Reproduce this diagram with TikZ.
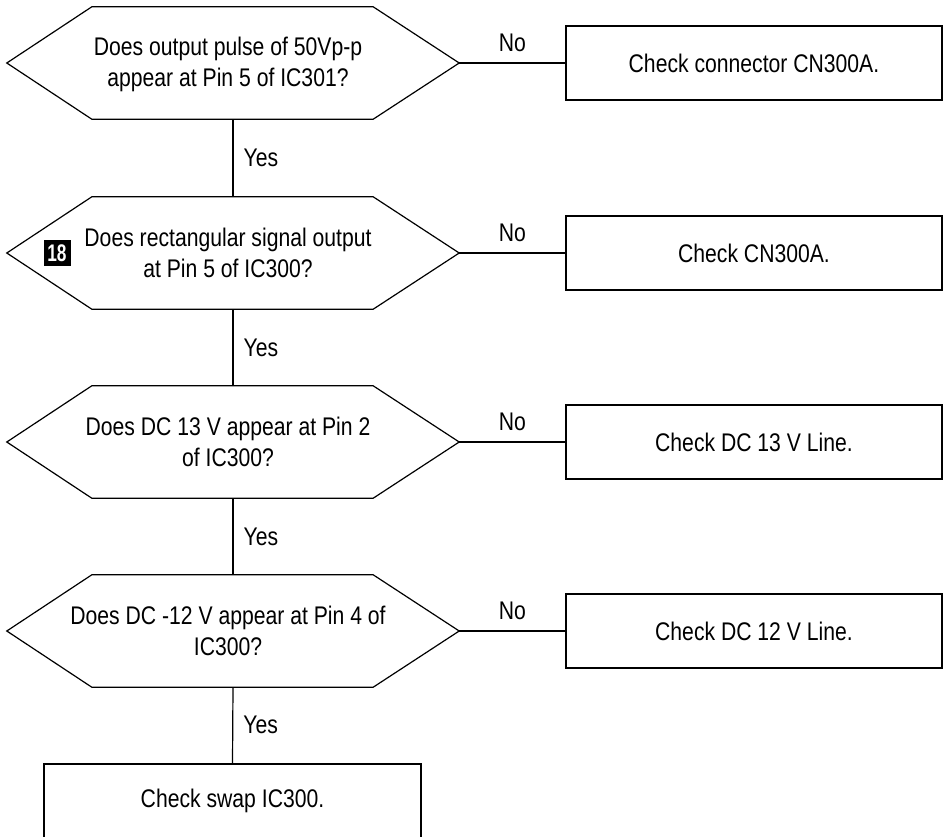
\documentclass[tikz,border=0pt]{standalone}
\usepackage{fontspec}
\setmainfont{Liberation Sans}[FakeStretch=0.83]
\newfontfamily\badgefont{Liberation Sans}[FakeStretch=0.72]
\begin{document}
\begin{tikzpicture}[x=1pt,y=-1pt,
  every node/.style={font=\fontsize{25.5}{31}\selectfont},
  line/.style={draw=black, line width=1.2pt},
  question/.style={minimum width=452pt, minimum height=112pt, inner sep=0pt},
  qtext/.style={align=center, inner sep=0pt},
  action/.style={line, minimum width=376pt, minimum height=74pt, inner sep=0pt},
  answer/.style={inner sep=0pt},
  badge/.style={fill=black, text=white, minimum width=27pt, minimum height=26pt,
    inner sep=0pt, font=\badgefont\bfseries\fontsize{24}{24}\selectfont}
]
\useasboundingbox (0,0) rectangle (943,836);
\clip (0,0) rectangle (943,836);

% decision nodes (outline drawn below) and their texts
\node[question] (q1) at (233,63) {};
\node[qtext] (q1t) at (228,64) {Does output pulse of 50Vp-p\\appear at Pin 5 of IC301?};
\node[question] (q2) at (233,253) {};
\node[qtext] (q2t) at (228,253) {Does rectangular signal output\\at Pin 5 of IC300?};
\node[question] (q3) at (233,442) {};
\node[qtext] (q3t) at (228,442) {Does DC 13 V appear at Pin 2\\of IC300?};
\node[question] (q4) at (233,631) {};
\node[qtext] (q4t) at (228,631) {Does DC -12 V appear at Pin 4 of\\IC300?};

\foreach \q in {q1,q2,q3,q4}
  \draw[line] (\q.west) -- ([xshift=85pt]\q.north west) -- ([xshift=-86pt]\q.north east)
    -- (\q.east) -- ([xshift=-86pt]\q.south east) -- ([xshift=85pt]\q.south west) -- cycle;

\node[badge] (b18) at (57,253) {18};

% action boxes
\node[action] (a1) at (754,63) {Check connector CN300A.};
\node[action] (a2) at (754,253) {Check CN300A.};
\node[action] (a3) at (754,442) {Check DC 13 V Line.};
\node[action] (a4) at (754,631) {Check DC 12 V Line.};
\node[action, minimum width=377pt] (fin) at (232.5,801) {Check swap IC300.};

% "No" branches
\foreach \i in {1,2,3,4}
  \draw[line] (q\i.east) -- node[answer, anchor=base, yshift=12pt] {No} (a\i.west);

% "Yes" branches
\draw[line] (q1.south) -- node[answer, anchor=west, xshift=10pt] {Yes} (q2.north);
\draw[line] (q2.south) -- node[answer, anchor=west, xshift=10pt] {Yes} (q3.north);
\draw[line] (q3.south) -- node[answer, anchor=west, xshift=10pt] {Yes} (q4.north);
\draw[line] (q4.south) -- node[answer, anchor=west, xshift=10pt] {Yes} (fin.north);
\end{tikzpicture}
\end{document}
